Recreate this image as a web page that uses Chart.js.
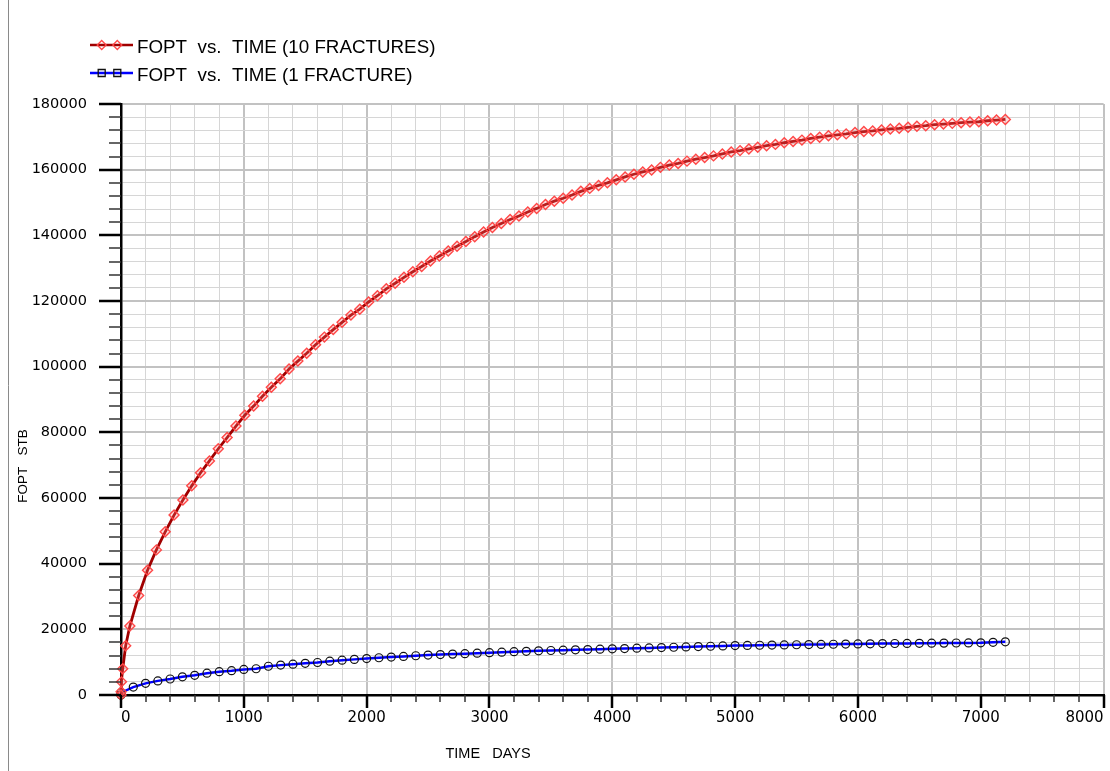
<!DOCTYPE html>
<html><head><meta charset="utf-8">
<script src="https://cdn.jsdelivr.net/npm/chart.js@4.4.1/dist/chart.umd.min.js"></script>
<style>html,body{margin:0;padding:0;background:#fff;overflow:hidden}</style>
</head><body>
<canvas id="c" width="1110" height="771"></canvas>
<script>
// ---- data ----
const seriesLabels = ["FOPT  vs.  TIME (10 FRACTURES)", "FOPT  vs.  TIME (1 FRACTURE)"];
const xTitle = "TIME   DAYS";
const yTitle = "FOPT   STB";

const redDays = [0,1,4,14,38,72,144,216,288,360,432,504,576,648,720,792,864,936,1008,1080,1152,1224,1296,1368,1440,1512,1584,1656,1728,1800,1872,1944,2016,2088,2160,2232,2304,2376,2448,2520,2592,2664,2736,2808,2880,2952,3024,3096,3168,3240,3312,3384,3456,3528,3600,3672,3744,3816,3888,3960,4032,4104,4176,4248,4320,4392,4464,4536,4608,4680,4752,4824,4896,4968,5040,5112,5184,5256,5328,5400,5472,5544,5616,5688,5760,5832,5904,5976,6048,6120,6192,6264,6336,6408,6480,6552,6624,6696,6768,6840,6912,6984,7056,7128,7200];
const redFopt = [0,1000,4000,8000,15000,21000,30300,38000,44200,49700,54800,59400,63700,67700,71300,75000,78400,81900,85200,88000,91000,93700,96300,99300,101700,104100,106700,109000,111300,113500,115700,117500,119700,121600,123700,125400,127200,128900,130500,132200,133700,135200,136700,138100,139600,141000,142400,143600,144800,145900,147100,148200,149400,150400,151300,152300,153400,154300,155200,156000,156900,157800,158600,159300,159900,160700,161400,161900,162600,163200,163700,164200,164800,165400,165800,166300,166800,167300,167700,168200,168600,169000,169500,169900,170300,170600,170900,171300,171600,171800,172100,172400,172600,172900,173200,173400,173700,173900,174100,174300,174500,174600,174900,175100,175300];

const blueDays = [0,1,100,200,300,400,500,600,700,800,900,1000,1100,1200,1300,1400,1500,1600,1700,1800,1900,2000,2100,2200,2300,2400,2500,2600,2700,2800,2900,3000,3100,3200,3300,3400,3500,3600,3700,3800,3900,4000,4100,4200,4300,4400,4500,4600,4700,4800,4900,5000,5100,5200,5300,5400,5500,5600,5700,5800,5900,6000,6100,6200,6300,6400,6500,6600,6700,6800,6900,7000,7100,7200];
const blueFopt = [0,700,2400,3550,4300,4870,5550,6000,6650,7100,7400,7800,8000,8750,9100,9400,9650,9900,10300,10600,10850,11100,11350,11550,11750,11950,12150,12300,12450,12600,12750,12900,13050,13200,13300,13450,13550,13650,13750,13850,13950,14050,14150,14250,14350,14450,14550,14650,14750,14850,14950,15050,15100,15150,15200,15250,15300,15350,15400,15450,15500,15550,15600,15650,15680,15710,15740,15770,15800,15830,15860,15900,16050,16200];

const xMin = 0, xMax = 8000, xStep = 200, xMajor = 1000;
const yMin = 0, yMax = 180000, yStep = 4000, yMajor = 20000;

// ---- styles ----
const redLine = '#a00000', redMarker = '#ff4848';
const blueLine = '#0000ff', blueMarker = '#111111';

const toPts = (xs, ys) => xs.map((x, i) => ({x: x, y: ys[i]}));

const decor = {
  id: 'decor',
  afterDraw(chart) {
    const ctx = chart.ctx, ca = chart.chartArea;
    const xs = chart.scales.x, ys = chart.scales.y;
    ctx.save();
    // tick marks
    xs.ticks.forEach(t => {
      const px = Math.round(xs.getPixelForValue(t.value));
      const major = t.value % xMajor === 0;
      ctx.strokeStyle = major ? '#000' : '#333';
      ctx.lineWidth = major ? 2.5 : 1.5;
      ctx.beginPath();
      ctx.moveTo(px, ca.bottom);
      ctx.lineTo(px, ca.bottom + (major ? 13 : 7));
      ctx.stroke();
    });
    ys.ticks.forEach(t => {
      const py = Math.round(ys.getPixelForValue(t.value));
      const major = t.value % yMajor === 0;
      ctx.strokeStyle = major ? '#000' : '#333';
      ctx.lineWidth = major ? 2.5 : 1.5;
      ctx.beginPath();
      ctx.moveTo(ca.left, py);
      ctx.lineTo(ca.left - (major ? 22 : 12), py);
      ctx.stroke();
    });
    // frame line on the left
    ctx.strokeStyle = '#8a8a8a';
    ctx.lineWidth = 1;
    ctx.beginPath(); ctx.moveTo(8.5, 0); ctx.lineTo(8.5, 771); ctx.stroke();

    // axis titles
    ctx.fillStyle = '#000';
    ctx.font = '14.5px "Liberation Sans", Arial, sans-serif';
    ctx.textAlign = 'center'; ctx.textBaseline = 'middle';
    ctx.fillText(xTitle, 488, 754);
    ctx.save();
    ctx.translate(23, 466); ctx.rotate(-Math.PI / 2);
    ctx.font = '13.5px "Liberation Sans", Arial, sans-serif';
    ctx.fillText(yTitle, 0, 0);
    ctx.restore();

    // legend
    const rows = [45, 73];
    chart.data.datasets.forEach((ds, i) => {
      const y = rows[i];
      ctx.strokeStyle = ds.borderColor; ctx.lineWidth = 2.5;
      ctx.beginPath(); ctx.moveTo(90, y); ctx.lineTo(133, y); ctx.stroke();
      ctx.strokeStyle = ds.pointBorderColor; ctx.lineWidth = 1.3;
      [101.7, 117.3].forEach(mx => {
        ctx.beginPath();
        if (i === 0) {
          ctx.moveTo(mx, y - 4.5); ctx.lineTo(mx + 4.5, y); ctx.lineTo(mx, y + 4.5); ctx.lineTo(mx - 4.5, y); ctx.closePath();
        } else {
          ctx.rect(mx - 3.5, y - 3.5, 7, 7);
        }
        ctx.stroke();
      });
      ctx.fillStyle = '#000';
      ctx.font = '18.8px "Liberation Sans", Arial, sans-serif';
      ctx.textAlign = 'left'; ctx.textBaseline = 'middle';
      ctx.fillText(ds.label, 137, y + 2.5);
    });
    ctx.restore();
  }
};

const gridColor = (major) => major ? '#c2c2c2' : '#d6d6d6';

new Chart(document.getElementById('c'), {
  type: 'line',
  data: {
    datasets: [
      {
        label: seriesLabels[0],
        data: toPts(redDays, redFopt),
        borderColor: redLine, borderWidth: 2.8,
        pointStyle: 'rectRot', pointRadius: 5,
        pointBorderColor: redMarker, pointBackgroundColor: 'rgba(255,120,120,0.25)', pointBorderWidth: 1.4,
        tension: 0, clip: false
      },
      {
        label: seriesLabels[1],
        data: toPts(blueDays, blueFopt),
        borderColor: blueLine, borderWidth: 2.5,
        pointStyle: 'circle', pointRadius: 4,
        pointBorderColor: blueMarker, pointBackgroundColor: 'rgba(0,0,0,0)', pointBorderWidth: 1.2,
        tension: 0, clip: false
      }
    ]
  },
  options: {
    responsive: false,
    animation: false,
    devicePixelRatio: 1,
    layout: { padding: { top: 104, right: 2, bottom: 0, left: 0 } },
    plugins: { legend: { display: false }, tooltip: { enabled: false }, title: { display: false } },
    scales: {
      x: {
        type: 'linear', min: xMin, max: xMax,
        grid: {
          drawTicks: false,
          color: c => gridColor(c.tick && c.tick.value % xMajor === 0),
          lineWidth: c => (c.tick && c.tick.value % xMajor === 0) ? 2 : 1
        },
        border: { display: true, color: '#000', width: 2.5 },
        ticks: {
          stepSize: xStep, autoSkip: false, maxRotation: 0, align: 'inner',
          padding: 14, color: '#000',
          font: { family: '"DejaVu Sans", sans-serif', size: 15 },
          callback: v => (v % xMajor === 0 ? String(v) : '')
        },
        afterFit: s => { s.height = 76; s.paddingLeft = 0; s.paddingRight = 0; }
      },
      y: {
        type: 'linear', min: yMin, max: yMax,
        grid: {
          drawTicks: false,
          color: c => gridColor(c.tick && c.tick.value % yMajor === 0),
          lineWidth: c => (c.tick && c.tick.value % yMajor === 0) ? 2 : 1
        },
        border: { display: true, color: '#000', width: 2.5 },
        ticks: {
          stepSize: yStep, autoSkip: false, padding: 34, color: '#000',
          font: { family: '"DejaVu Sans", sans-serif', size: 14.5 },
          callback: v => (v % yMajor === 0 ? String(v) : '')
        },
        afterFit: s => { s.width = 121; s.paddingTop = 0; s.paddingBottom = 0; }
      }
    }
  },
  plugins: [decor]
});
</script>
</body></html>
